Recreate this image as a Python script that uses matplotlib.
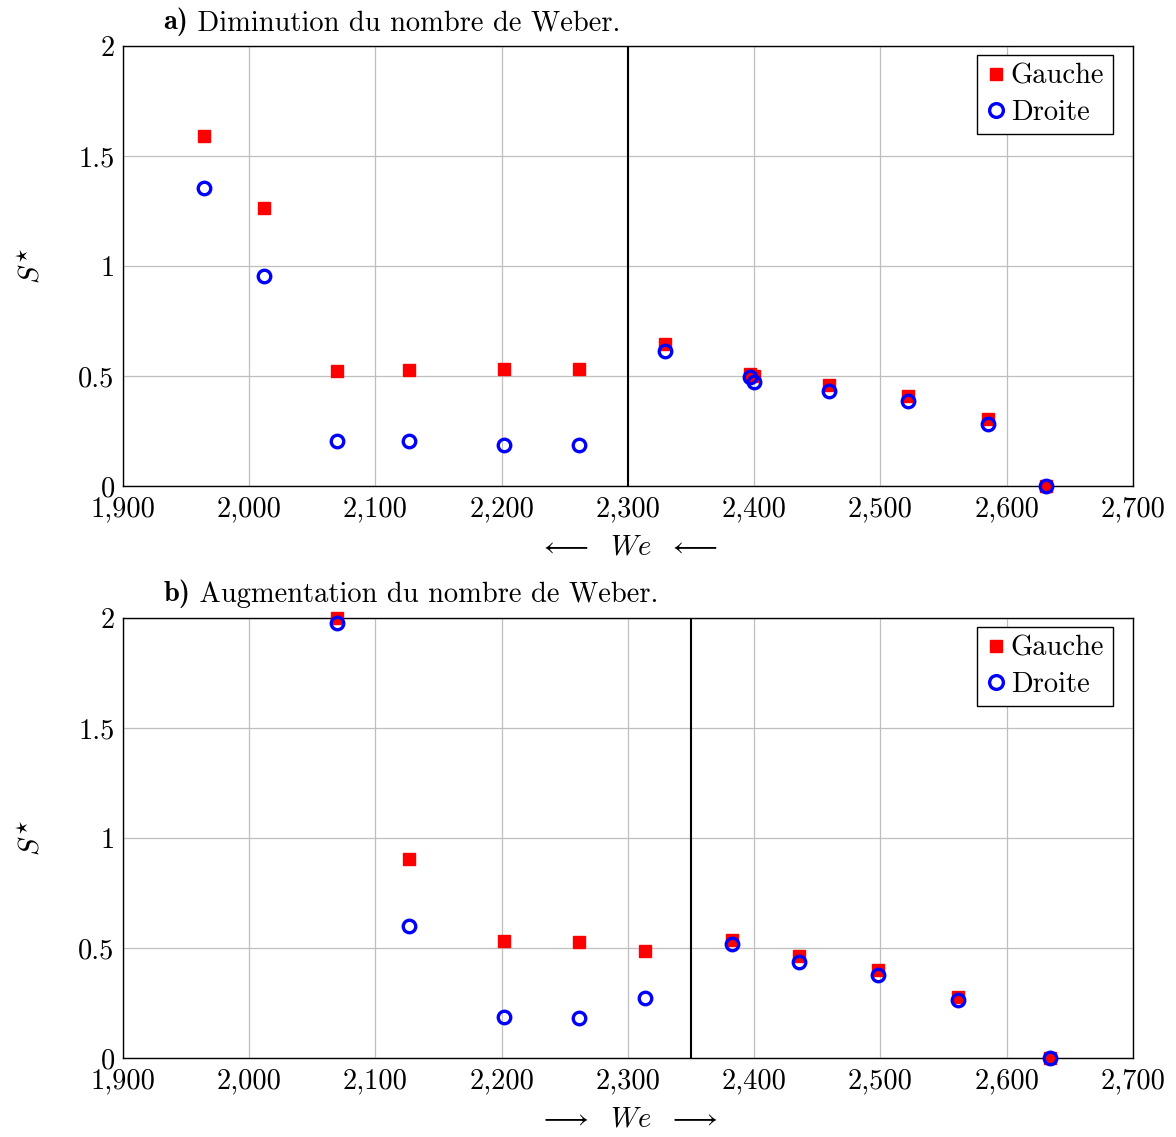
import matplotlib
matplotlib.use("Agg")
import matplotlib.pyplot as plt
from matplotlib.ticker import FuncFormatter, MultipleLocator

plt.rcParams["font.family"] = "cmr10"
plt.rcParams["mathtext.fontset"] = "cm"
plt.rcParams["axes.formatter.use_mathtext"] = True

# a) decreasing Weber number
we_a = [1964, 2012, 2069.5, 2126.5, 2202, 2261, 2329, 2397, 2399.5, 2459, 2522, 2585, 2631]
gauche_a = [1.59, 1.264, 0.523, 0.527, 0.532, 0.532, 0.645, 0.51, 0.50, 0.459, 0.409, 0.305, 0.0]
droite_a = [1.355, 0.955, 0.205, 0.205, 0.186, 0.186, 0.614, 0.495, 0.473, 0.432, 0.386, 0.282, 0.0]
seuil_a = 2300

# b) increasing Weber number
we_b = [2069.5, 2126.5, 2202, 2261, 2313.5, 2382.5, 2435.5, 2498, 2561.5, 2634]
gauche_b = [2.0, 0.905, 0.532, 0.527, 0.486, 0.536, 0.464, 0.40, 0.277, 0.0]
droite_b = [1.977, 0.60, 0.186, 0.182, 0.273, 0.518, 0.436, 0.377, 0.264, 0.0]
seuil_b = 2350

tags = ["a)", "b)"]
titles = [" Diminution du nombre de Weber.", " Augmentation du nombre de Weber."]
xlabels = [r"$\longleftarrow\ \ We\ \ \longleftarrow$",
           r"$\longrightarrow\ \ We\ \ \longrightarrow$"]

fs = 20.5

fig = plt.figure(figsize=(11.76, 11.37), dpi=100)
ax_a = fig.add_axes([0.1046, 0.5726, 0.8588, 0.3870])
ax_b = fig.add_axes([0.1046, 0.0695, 0.8588, 0.3870])

data = [(ax_a, we_a, gauche_a, droite_a, seuil_a),
        (ax_b, we_b, gauche_b, droite_b, seuil_b)]

for i, (ax, we, g, d, s) in enumerate(data):
    ax.plot(we, g, linestyle="none", marker="s", markersize=8.5,
            color="red", label="Gauche", zorder=3, clip_on=False)
    ax.plot(we, d, linestyle="none", marker="o", markersize=9,
            markerfacecolor="none", markeredgecolor="blue", markeredgewidth=2.4,
            label="Droite", zorder=4, clip_on=False)
    ax.axvline(s, color="black", linewidth=1.5, zorder=2)
    ax.set_xlim(1900, 2700)
    ax.set_ylim(0, 2)
    ax.xaxis.set_major_locator(MultipleLocator(100))
    ax.yaxis.set_major_locator(MultipleLocator(0.5))
    ax.xaxis.set_major_formatter(FuncFormatter(lambda v, p: "{:,}".format(int(round(v)))))
    ax.yaxis.set_major_formatter(FuncFormatter(lambda v, p: "{:g}".format(v)))
    ax.grid(True, color="#bfbfbf", linewidth=0.9)
    ax.set_axisbelow(True)
    ax.tick_params(direction="in", length=0, labelsize=fs)
    ax.tick_params(axis="x", pad=7)
    ax.tick_params(axis="y", pad=6)
    for sp in ax.spines.values():
        sp.set_linewidth(1.0)
    ax.set_ylabel(r"$S^{\star}$", fontsize=fs, labelpad=24)
    ax.set_xlabel(xlabels[i], fontsize=fs, labelpad=9)
    tag = ax.text(0.04, 1.038, tags[i], transform=ax.transAxes, fontsize=fs,
                  family="cmb10", ha="left", va="baseline")
    ax.annotate(titles[i], xy=(1, 0), xycoords=tag, fontsize=fs,
                ha="left", va="bottom")
    leg = ax.legend(loc="upper right", fontsize=fs, handletextpad=0.1,
                    handlelength=0.8, borderpad=0.3, labelspacing=0.35,
                    fancybox=False, framealpha=1, edgecolor="black",
                    bbox_to_anchor=(0.98, 0.98), borderaxespad=0,
                    markerscale=1.1)
    leg.get_frame().set_linewidth(1.0)

plt.savefig("out.png", dpi=100)
